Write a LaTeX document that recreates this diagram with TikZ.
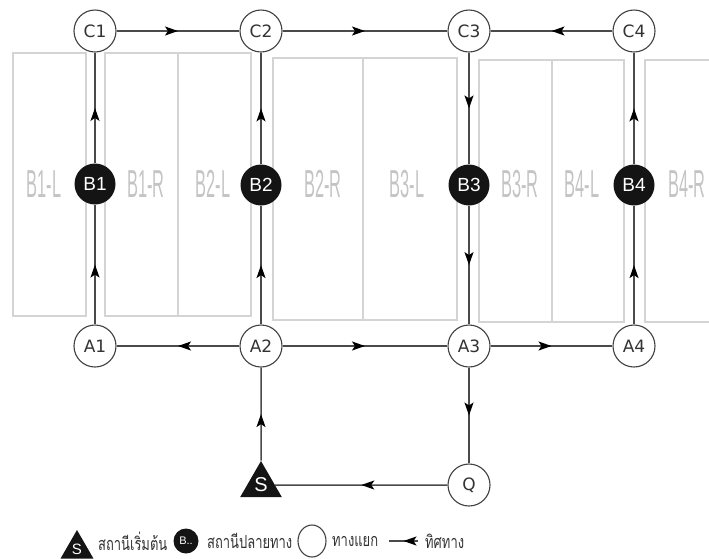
\documentclass[tikz,border=0pt]{standalone}
\usepackage{fontspec}
\setmainfont{DejaVu Sans}
\newfontfamily\libfont{Liberation Sans}
\newfontfamily\thaifont[Script=Thai]{Loma}
\usetikzlibrary{arrows.meta,decorations.markings,shapes.geometric}
\definecolor{roadgray}{HTML}{4A4A4A}
\definecolor{lotgray}{HTML}{D4D4D4}
\definecolor{lottext}{HTML}{C4C4C4}
\newcommand{\narrowtxt}[1]{\scalebox{0.42}[1]{#1}}
\newcommand{\thainarrow}[1]{\scalebox{0.72}[1]{#1}}
\begin{document}
\begin{tikzpicture}[x=1pt,y=-1pt,
  junction/.style={circle,draw=black!75,line width=1.1pt,fill=white,minimum size=42pt,inner sep=0pt,text=black!80,font=\fontsize{17}{17}\selectfont},
  station/.style={circle,fill=black!92,minimum size=41pt,inner sep=0pt,text=white,font=\libfont\fontsize{19}{19}\selectfont},
  startnode/.style={regular polygon,regular polygon sides=3,fill=black!92,minimum size=48pt,inner sep=0pt,text=white,font=\libfont\fontsize{20}{20}\selectfont},
  road/.style={draw=roadgray,line width=1.5pt,postaction={decorate},decoration={markings,mark=at position 0.5 with {\arrow{Stealth[length=13pt,width=9pt,inset=3pt,color=black]}}}},
  lot/.style={draw=lotgray,line width=1.3pt},
  lotlabel/.style={text=lottext,font=\libfont\fontsize{39}{39}\selectfont},
  legtext/.style={text=black!80,font=\thaifont\fontsize{18}{18}\selectfont,anchor=west,inner sep=0pt}
]
\useasboundingbox (0,0) rectangle (709,558);
% parking lots
\draw[lot] (13,53) rectangle (86,316);
\draw[lot] (105,53) rectangle (251,316);
\draw[lot] (178,53) -- (178,316);
\draw[lot] (273,58) rectangle (457,320);
\draw[lot] (363,58) -- (363,320);
\draw[lot] (479,60) rectangle (624,322);
\draw[lot] (552,60) -- (552,322);
\draw[lot] (709,60) -- (645,60) -- (645,322) -- (709,322);
\node[lotlabel] (l1L) at (44,184) {\narrowtxt{B1-L}};
\node[lotlabel] (l1R) at (146,184) {\narrowtxt{B1-R}};
\node[lotlabel] (l2L) at (213,184) {\narrowtxt{B2-L}};
\node[lotlabel] (l2R) at (323,184) {\narrowtxt{B2-R}};
\node[lotlabel] (l3L) at (407,184) {\narrowtxt{B3-L}};
\node[lotlabel] (l3R) at (520,184) {\narrowtxt{B3-R}};
\node[lotlabel] (l4L) at (582,184) {\narrowtxt{B4-L}};
\node[lotlabel] (l4R) at (687,184) {\narrowtxt{B4-R}};
% nodes
\node[junction] (C1) at (95,31) {C1};
\node[junction] (C2) at (261,31) {C2};
\node[junction] (C3) at (469,31) {C3};
\node[junction] (C4) at (634,31) {C4};
\node[station] (B1) at (95,184) {B1};
\node[station] (B2) at (261,185) {B2};
\node[station] (B3) at (469,185) {B3};
\node[station] (B4) at (634,185) {B4};
\node[junction] (A1) at (95,346) {A1};
\node[junction] (A2) at (261,346) {A2};
\node[junction] (A3) at (469,346) {A3};
\node[junction] (A4) at (634,346) {A4};
\node[junction] (Q) at (469,485) {Q};
\node[startnode] (S) at (261,485) {S};
% roads
\draw[road] (C1) -- (C2);
\draw[road] (C2) -- (C3);
\draw[road] (C4) -- (C3);
\draw[road] (B1) -- (C1);
\draw[road] (A1) -- (B1);
\draw[road] (B2) -- (C2);
\draw[road] (A2) -- (B2);
\draw[road] (C3) -- (B3);
\draw[road] (B3) -- (A3);
\draw[road] (B4) -- (C4);
\draw[road] (A4) -- (B4);
\draw[road] (A2) -- (A1);
\draw[road] (A2) -- (A3);
\draw[road] (A3) -- (A4);
\draw[road] (A3) -- (Q);
\draw[road] (Q) -- (S);
\draw[road] (S) -- (A2);
% legend
\node[regular polygon,regular polygon sides=3,fill=black!92,minimum size=38pt,inner sep=0pt,text=white,font=\libfont\fontsize{15}{15}\selectfont] (legS) at (77,549) {S};
\node[legtext] (legSt) at (98,541) {\thainarrow{สถานีเริ่มต้น}};
\node[circle,fill=black!92,minimum size=25pt,inner sep=0pt,text=white,font=\libfont\fontsize{11}{11}\selectfont] (legB) at (186,541) {B..};
\node[legtext] (legBt) at (207,541) {\thainarrow{สถานีปลายทาง}};
\node[ellipse,draw=black!75,line width=1.1pt,minimum width=28pt,minimum height=32pt,inner sep=0pt] (legJ) at (312,541) {};
\node[legtext] (legJt) at (332,541) {\thainarrow{ทางแยก}};
\coordinate (legA1) at (418,541);
\coordinate (legA2) at (389,541);
\draw[road] (legA1) -- (legA2);
\node[legtext] (legAt) at (425,541) {\thainarrow{ทิศทาง}};
\end{tikzpicture}
\end{document}
